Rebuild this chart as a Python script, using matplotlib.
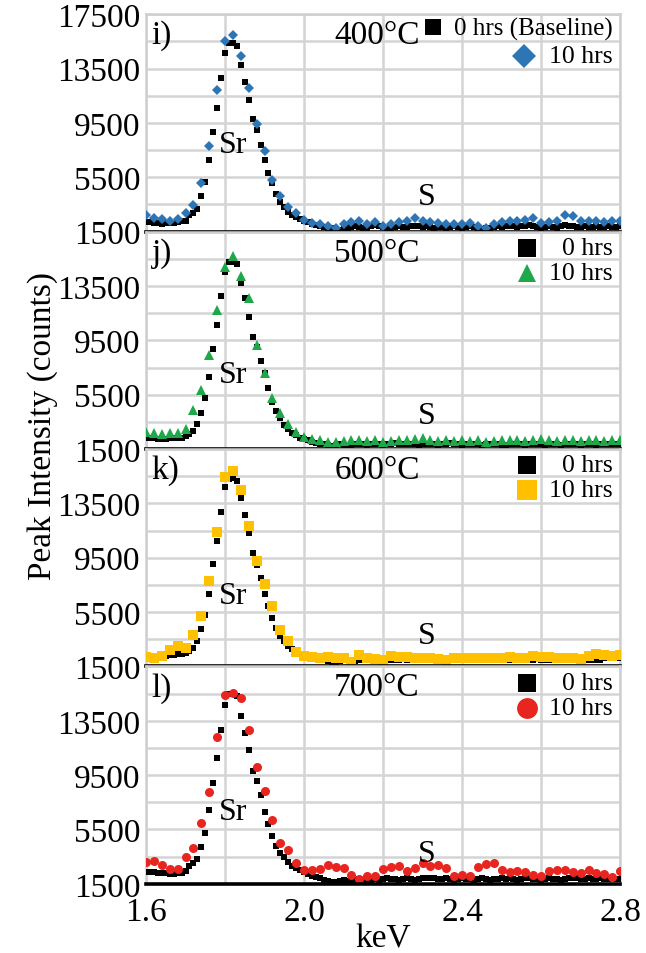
import numpy as np
import matplotlib.pyplot as plt

plt.rcParams['font.family'] = ['Liberation Serif', 'DejaVu Serif']

# energy axis: baseline spectra every 0.01 keV, aged spectra every 0.02 keV
kev_start = 1.60

temps = ['400°C', '500°C', '600°C', '700°C']
panel_tags = ['i)', 'j)', 'k)', 'l)']
base_names = ['0 hrs (Baseline)', '0 hrs', '0 hrs', '0 hrs']
aged_name = '10 hrs'

# 0 hrs counts
base_400 = [2200, 2200, 2150, 2150, 2100, 2150, 2150, 2150, 2200, 2250, 2300,
            2700, 2900, 3200, 4100, 5150, 6800, 8850, 10600, 12800, 14650,
            15400, 15400, 15150, 13750, 12550, 11200, 9800, 9000, 7900, 6750,
            5800, 5050, 4250, 3700, 3300, 2950, 2700, 2550, 2400, 2300,
            2200, 2100, 2000, 1900, 1850, 1800, 1750, 1700, 1650, 1700,
            1800, 1850, 1900, 1850, 1750, 1800, 1900, 2000, 1950, 1850,
            1750, 1800, 1850, 1900, 1850, 1850, 1900, 1950, 1900, 1850,
            1900, 1850, 1800, 1850, 1850, 1800, 1850, 1900, 1850, 1800,
            1850, 1900, 1850, 1800, 1700, 1750, 1800, 1850, 1900, 1850,
            1900, 1950, 1900, 1850, 1900, 1950, 2000, 1950, 1850, 1800,
            1850, 1900, 1850, 1800, 1900, 2000, 1950, 1900, 1850, 1850,
            1900, 1850, 1850, 1900, 1850, 1850, 1900, 1850, 1850, 1900]
base_500 = [2300, 2300, 2280, 2250, 2250, 2250, 2280, 2300, 2300, 2350, 2450,
            2640, 2810, 3380, 4170, 5230, 6830, 8880, 10610, 12760, 14540,
            15300, 15300, 15100, 13750, 12590, 11230, 9750, 8980, 8000, 7080,
            5970, 4980, 4290, 3750, 3300, 3010, 2710, 2510, 2350, 2250,
            2150, 2050, 1950, 1900, 1850, 1800, 1750, 1800, 1850, 1800,
            1750, 1800, 1850, 1900, 1850, 1800, 1850, 1900, 1850, 1800,
            1850, 1900, 1950, 1900, 1850, 1850, 1900, 1850, 1800, 1850,
            1900, 1850, 1850, 1800, 1850, 1900, 1950, 1900, 1850, 1800,
            1850, 1850, 1900, 1850, 1800, 1850, 1850, 1900, 1850, 1800,
            1800, 1850, 1900, 1900, 1850, 1800, 1850, 1900, 1850, 1850,
            1800, 1850, 1900, 1850, 1800, 1850, 1900, 1850, 1850, 1800,
            1850, 1900, 1850, 1800, 1850, 1850, 1900, 1850, 1850, 1900]
base_600 = [2300, 2300, 2250, 2250, 2300, 2300, 2350, 2350, 2400, 2400, 2500,
            2660, 2830, 3400, 4220, 5250, 6860, 9010, 10730, 12860, 14710,
            15300, 15350, 15150, 13900, 12650, 11300, 9850, 9000, 8000, 6850,
            5950, 5050, 4300, 3750, 3350, 3000, 2750, 2550, 2400, 2300,
            2200, 2100, 2050, 2000, 1950, 1900, 1850, 1850, 1900, 1950,
            2000, 1950, 1900, 1950, 2000, 2050, 2000, 1950, 1950, 2000,
            2000, 1950, 1950, 2000, 2050, 2000, 1950, 1950, 2000, 1950,
            1950, 2000, 2000, 1950, 1900, 1950, 2000, 2000, 1950, 1950,
            2000, 2050, 2000, 1950, 2000, 2000, 1950, 1950, 2000, 2050,
            2000, 1950, 2000, 2000, 2050, 2000, 1950, 2000, 2050, 2000,
            1950, 2000, 2050, 2000, 1950, 2000, 2000, 1950, 2000, 2050,
            2050, 2000, 2000, 1950, 2000, 2100, 2150, 2100, 2150, 2150]
base_700 = [2350, 2350, 2350, 2300, 2300, 2300, 2250, 2250, 2300, 2300, 2450,
            2820, 3000, 3350, 4180, 5260, 6910, 8940, 10770, 12840, 14670,
            15500, 15450, 15330, 13820, 12600, 11350, 9840, 9040, 8010, 6790,
            5940, 5010, 4300, 3790, 3450, 3110, 2820, 2650, 2520, 2400,
            2250, 2100, 2000, 1900, 1800, 1700, 1650, 1650, 1700, 1750,
            1700, 1700, 1800, 1850, 1800, 1750, 1800, 1850, 1800, 1850,
            1900, 1850, 1850, 1800, 1850, 1900, 1850, 1800, 1850, 1900,
            1900, 1950, 1900, 1850, 1850, 1900, 1850, 1800, 1850, 1900,
            1850, 1850, 1800, 1850, 1900, 1850, 1800, 1850, 1850, 1900,
            1850, 1900, 1850, 1800, 1850, 1900, 1900, 1850, 1850, 1800,
            1850, 1900, 1850, 1850, 1800, 1850, 1900, 1950, 1900, 1850,
            1850, 1900, 1850, 1850, 1900, 1850, 1850, 1900, 1850, 1850]

# 10 hrs counts
aged_400 = [2750, 2500, 2400, 2300, 2400, 2900, 3450, 5050, 7800, 11900,
            15550, 15950, 14450, 12100, 9450, 7400, 5300, 4100, 3350, 2850,
            2370, 2170, 2050, 1920, 1800, 2050, 2200, 2250, 2050, 2200,
            1880, 2050, 2200, 2250, 2500, 2320, 2200, 2120, 2100, 2050,
            2080, 2120, 1880, 1750, 2080, 2200, 2300, 2250, 2370, 2500,
            2120, 2200, 2300, 2700, 2620, 2300, 2250, 2250, 2200, 2250, 2320]
aged_500 = [2760, 2690, 2640, 2690, 2710, 3010, 4360, 5850, 8440, 11720,
            14930, 15720, 14240, 12640, 9180, 7130, 5280, 4190, 3380, 2760,
            2400, 2250, 2150, 2050, 2000, 2100, 2150, 2200, 2100, 2150,
            2050, 2100, 2200, 2150, 2250, 2300, 2150, 2100, 2150, 2100,
            2150, 2100, 2200, 2050, 2100, 2150, 2200, 2150, 2100, 2200,
            2250, 2150, 2100, 2150, 2200, 2100, 2150, 2200, 2100, 2150, 2200]
aged_600 = [2170, 2120, 2290, 2710, 2980, 2830, 3820, 5200, 7770, 11380,
            15430, 15870, 14460, 11800, 9250, 7570, 5920, 4190, 3400, 2540,
            2300, 2200, 2150, 2200, 2150, 2100, 1850, 2350, 2100, 2050,
            1950, 2250, 2200, 2200, 2150, 2150, 2100, 2050, 2000, 2100,
            2150, 2150, 2100, 2150, 2100, 2150, 2200, 2150, 2100, 2250,
            2200, 2200, 2150, 2150, 2100, 2050, 2300, 2400, 2350, 2300, 2350]
aged_700 = [3130, 3210, 2890, 2570, 2570, 3450, 4160, 6010, 8260, 12280,
            15380, 15570, 15160, 12840, 10130, 8300, 6230, 4520, 3990, 3010,
            2530, 2530, 2600, 2900, 2720, 2670, 2160, 1870, 2110, 2110,
            2600, 2720, 2800, 2480, 2670, 3040, 2800, 2920, 2670, 2110,
            2160, 2040, 2770, 2960, 3040, 2530, 2360, 2480, 2360, 2160,
            2060, 2430, 2550, 2550, 2360, 2280, 2550, 2280, 2230, 1990, 2480]

base_series = [base_400, base_500, base_600, base_700]
aged_series = [aged_400, aged_500, aged_600, aged_700]
aged_colors = ['#2E75B6', '#1FA84A', '#FFC000', '#E8251F']
aged_markers = ['D', '^', 's', 'o']
aged_sizes = [5, 6.5, 7.5, 6.5]
legend_sizes = [12, 13, 15, 15]

# peak annotations (keV, counts)
sr_pos = [(1.82, 7900), (1.82, 7000), (1.82, 6700), (1.82, 6800)]
s_pos = [(2.31, 4100), (2.31, 4000), (2.31, 3800), (2.31, 3700)]

fig, axes = plt.subplots(4, 1, figsize=(6.46, 9.54), dpi=100, sharex=True)
fig.subplots_adjust(left=0.226, right=0.96, top=0.984, bottom=0.0725, hspace=0)

yt = np.arange(1500, 17501, 2000)
xt = np.arange(1.6, 2.81, 0.2)

for n, ax in enumerate(axes):
    b = np.array(base_series[n])
    a = np.array(aged_series[n])
    xb = kev_start + 0.01 * np.arange(len(b))
    xa = kev_start + 0.02 * np.arange(len(a))

    ax.plot(xb, b, 's', color='black', ms=3.8, mew=0, zorder=3)
    ax.plot(xa, a, aged_markers[n], color=aged_colors[n], ms=aged_sizes[n],
            mew=0, zorder=4)

    ax.set_xlim(1.6, 2.8)
    ax.set_ylim(1500, 17500)
    ax.set_yticks(yt)
    labels = [str(v) if (v - 1500) % 4000 == 0 else '' for v in yt]
    if n > 0:
        labels[-1] = ''
    ax.set_yticklabels(labels)
    ax.set_xticks(xt)
    ax.set_xticklabels(['1.6', '', '2.0', '', '2.4', '', '2.8'])
    ax.tick_params(axis='y', length=0, labelsize=24, pad=4)
    ax.tick_params(axis='x', length=0, labelsize=24, pad=9)
    ax.grid(True, color='#d4d4d4', lw=1.8, zorder=0)
    ax.set_axisbelow(True)
    for side in ['left', 'right', 'top']:
        ax.spines[side].set_color('#cfcfcf')
        ax.spines[side].set_linewidth(1.8)
    ax.spines['bottom'].set_color('black')
    ax.spines['bottom'].set_linewidth(2.6)
    ax.spines['bottom'].set_zorder(5)

    ax.text(0.012, 0.975, panel_tags[n], transform=ax.transAxes,
            fontsize=24, ha='left', va='top')
    ax.text(0.487, 0.905, temps[n], transform=ax.transAxes,
            fontsize=24, ha='center', va='center')
    ax.text(*sr_pos[n], 'Sr', fontsize=23, ha='center', va='center', zorder=6)
    ax.text(*s_pos[n], 'S', fontsize=23, ha='center', va='center', zorder=6)

    # legend entries drawn by hand so the labels sit flush right
    if n == 0:
        ax.plot([0.605], [0.94], 's', color='black', ms=12, mew=0,
                transform=ax.transAxes, clip_on=False)
        ax.text(0.985, 0.935, base_names[n], transform=ax.transAxes,
                fontsize=18, ha='right', va='center')
        ax.plot([0.797], [0.81], aged_markers[n], color=aged_colors[n],
                ms=legend_sizes[n], mew=0, transform=ax.transAxes)
        ax.text(0.985, 0.81, aged_name, transform=ax.transAxes,
                fontsize=18.5, ha='right', va='center')
    else:
        ax.plot([0.804], [0.925], 's', color='black', ms=13, mew=0,
                transform=ax.transAxes)
        ax.text(0.985, 0.925, base_names[n], transform=ax.transAxes,
                fontsize=18.5, ha='right', va='center')
        ax.plot([0.804], [0.81], aged_markers[n], color=aged_colors[n],
                ms=legend_sizes[n], mew=0, transform=ax.transAxes)
        ax.text(0.985, 0.81, aged_name, transform=ax.transAxes,
                fontsize=18.5, ha='right', va='center')

axes[-1].set_xlabel('keV', fontsize=24, labelpad=-3)
fig.text(0.066, 0.553, 'Peak Intensity (counts)', rotation=90,
         fontsize=24, ha='center', va='center')

fig.savefig('out.png', dpi=100)
